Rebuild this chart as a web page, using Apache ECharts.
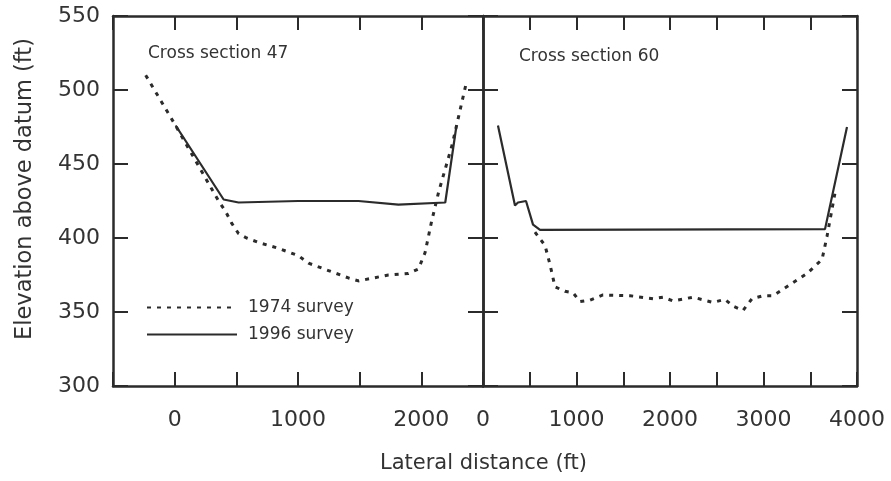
<!DOCTYPE html>
<html>
<head>
<meta charset="utf-8">
<script src="https://cdn.jsdelivr.net/npm/echarts@6/dist/echarts.min.js"></script>
<style>
html,body{margin:0;padding:0;background:#fff;}
#chart{width:891px;height:481px;}
</style>
</head>
<body>
<div id="chart"></div>
<script>
// ---- Data (lateral distance ft, elevation ft) ----
var seriesNames = ['1974 survey', '1996 survey'];
var panelTitles = ['Cross section 47', 'Cross section 60'];
var yTicks = [300, 350, 400, 450, 500, 550];
var xTicksLeft = [0, 1000, 2000];
var xTicksRight = [0, 1000, 2000, 3000, 4000];

var cs47Survey1974 = [[-235,510],[0,477],[356,425],[413,418],[462,410],[518,403],[583,400],[680,397],[842,393],[1004,388],[1085,383],[1247,378],[1409,373],[1490,371],[1733,375],[1895,376],[1976,379],[2030,390],[2080,410],[2140,431],[2250,463],[2365,505]];
var cs47Survey1996 = [[8,476],[397,426],[518,424],[1000,425],[1490,425],[1814,422.5],[2194,424],[2285,476]];
var cs60Survey1974 = [[556,404],[663,395],[717,382],[770,367],[877,364],[963,363],[1037,357],[1144,358],[1283,361.5],[1572,361],[1818,359],[1925,360],[2032,357.5],[2246,360],[2460,356.5],[2588,358.5],[2674,354],[2781,351],[2877,359],[2995,361],[3102,361],[3283,368.5],[3465,376],[3626,385.5],[3679,401],[3775,434]];
var cs60Survey1996 = [[160,476],[342,422],[374,424],[460,425],[535,409],[610,405.5],[3658,406],[3893,475]];

var INK = '#2b2b2b';
var TXT = '#333';
var FONT = 'DejaVu Sans';

function frameLine(){ return {show:true, onZero:false, lineStyle:{color:INK, width:2.5}}; }
function inTick(len){ return {show:true, inside:true, length:len, lineStyle:{color:INK, width:2}}; }

function xAx(grid, min, max, pos, labels){
  return {
    type:'value', gridIndex:grid, position:pos, min:min, max:max, interval:500,
    axisLine:frameLine(), axisTick:inTick(14), splitLine:{show:false},
    axisLabel: labels ? {
      show:true, margin:23, color:TXT, fontFamily:FONT, fontSize:22,
      formatter:function(v){ return labels.indexOf(v) >= 0 ? String(v) : ''; },
      showMinLabel:true, showMaxLabel:true
    } : {show:false}
  };
}
function yAx(grid, pos, showLabels){
  return {
    type:'value', gridIndex:grid, position:pos, min:300, max:550, interval:50,
    axisLine:frameLine(), axisTick:inTick(15), splitLine:{show:false},
    axisLabel: showLabels ? {
      show:true, margin:13, color:TXT, fontFamily:FONT, fontSize:22, padding:[6,0,0,0],
      formatter:function(v){ return yTicks.indexOf(v) >= 0 ? String(v) : ''; }
    } : {show:false}
  };
}

var dotted = {color:INK, width:3, type:[4,6]};
var solid = {color:INK, width:2.2, type:'solid'};

var option = {
  animation:false,
  backgroundColor:'#fff',
  textStyle:{fontFamily:FONT},
  title:[
    {text:panelTitles[0], left:148, top:45, padding:0, textStyle:{fontSize:17, fontWeight:'normal', color:TXT, fontFamily:FONT}},
    {text:panelTitles[1], left:519, top:48, padding:0, textStyle:{fontSize:17, fontWeight:'normal', color:TXT, fontFamily:FONT}}
  ],
  legend:{
    orient:'vertical', left:146, top:299, padding:0, itemWidth:90, itemHeight:14, itemGap:10,
    data:seriesNames, selectedMode:false,
    itemStyle:{opacity:0, color:'rgba(0,0,0,0)', borderWidth:0},
    textStyle:{fontSize:17, color:TXT, fontFamily:FONT, padding:[0,0,0,6]}
  },
  grid:[
    {left:113, top:16, width:370, height:370},
    {left:483, top:16, width:374, height:370}
  ],
  xAxis:[
    xAx(0, -500, 2500, 'bottom', xTicksLeft),
    xAx(0, -500, 2500, 'top', null),
    xAx(1, 0, 4000, 'bottom', xTicksRight),
    xAx(1, 0, 4000, 'top', null)
  ],
  yAxis:[
    Object.assign(yAx(0, 'left', true), {
      name:'Elevation above datum (ft)', nameLocation:'middle', nameGap:76,
      nameTextStyle:{fontSize:22.5, color:TXT, fontFamily:FONT, padding:[0,0,0,24]}
    }),
    yAx(0, 'right', false),
    yAx(1, 'left', false),
    yAx(1, 'right', false)
  ],
  graphic:[
    {type:'text', left:380, top:453, style:{text:'Lateral distance (ft)', fontSize:21, fill:TXT, fontFamily:FONT}}
  ],
  series:[
    {name:seriesNames[0], type:'line', xAxisIndex:0, yAxisIndex:0, data:cs47Survey1974, symbol:'none', lineStyle:dotted, itemStyle:{color:INK}},
    {name:seriesNames[1], type:'line', xAxisIndex:0, yAxisIndex:0, data:cs47Survey1996, symbol:'none', lineStyle:solid, itemStyle:{color:INK}},
    {name:seriesNames[0], type:'line', xAxisIndex:2, yAxisIndex:2, data:cs60Survey1974, symbol:'none', lineStyle:dotted, itemStyle:{color:INK}},
    {name:seriesNames[1], type:'line', xAxisIndex:2, yAxisIndex:2, data:cs60Survey1996, symbol:'none', lineStyle:solid, itemStyle:{color:INK}}
  ]
};
var chart = echarts.init(document.getElementById('chart'), null, {renderer:'canvas'});
chart.setOption(option);
</script>
</body>
</html>
